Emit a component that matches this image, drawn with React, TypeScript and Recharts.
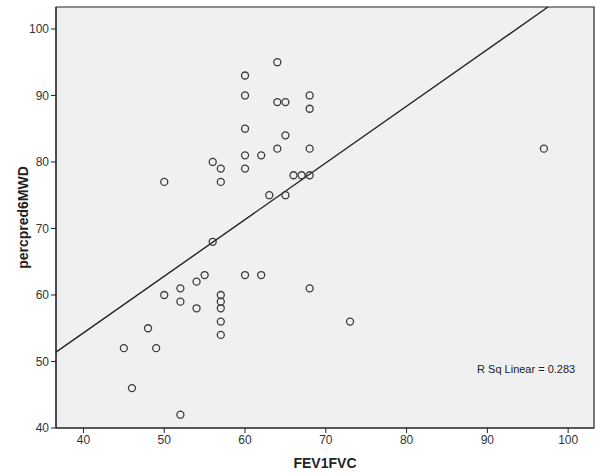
import React from "react";
import {
  ScatterChart,
  Scatter,
  XAxis,
  YAxis,
  CartesianGrid,
  ReferenceArea,
  ReferenceLine,
  ReferenceDot,
} from "recharts";

// FEV1FVC values
const fev1fvc = [
  64, 60, 60, 64, 65, 68, 68, 60, 65, 64, 68, 56, 60, 62, 57, 60, 50, 57, 66, 67,
  68, 63, 65, 56, 60, 62, 68, 57, 57, 57, 57, 57, 73, 55, 54, 52, 50, 52, 54, 48,
  45, 49, 46, 52, 97,
];
// percpred6MWD values
const percpred6MWD = [
  95, 93, 90, 89, 89, 90, 88, 85, 84, 82, 82, 80, 81, 81, 79, 79, 77, 77, 78, 78,
  78, 75, 75, 68, 63, 63, 61, 60, 59, 58, 56, 54, 56, 63, 62, 61, 60, 59, 58, 55,
  52, 52, 46, 42, 82,
];

const xTicks = [40, 50, 60, 70, 80, 90, 100];
const yTicks = [40, 50, 60, 70, 80, 90, 100];
const xDomain = [36.6, 103.2];
const yDomain = [40, 103.3];

// fit line endpoints
const fitX = [36.6, 97.5];
const fitY = [51.4, 103.3];
const rSqText = "R Sq Linear = 0.283";
const rSqPos = [94.8, 48.9];

const points = fev1fvc.map((x, i) => ({ x, y: percpred6MWD[i] }));

const FONT = "'Liberation Sans', Arial, sans-serif";

const OpenCircle = (props: any) => {
  const { cx, cy } = props;
  if (cx == null || cy == null) return null;
  return <circle cx={cx} cy={cy} r={3.5} fill="none" stroke="#3a3a3a" strokeWidth={1.3} />;
};

export default function App() {
  return (
    <div style={{ position: "absolute", left: 0, top: 0, background: "#fff" }}>
      <ScatterChart
        width={596}
        height={474}
        margin={{ top: 7, right: 2, left: 0, bottom: 0 }}
      >
        <CartesianGrid fill="#f0f0f0" horizontal={false} vertical={false} stroke="none" />
        <XAxis
          type="number"
          dataKey="x"
          domain={xDomain}
          ticks={xTicks}
          allowDataOverflow
          height={46}
          tickSize={5}
          stroke="#222"
          tick={{ fill: "#333", fontSize: 12, fontFamily: FONT }}
          label={{
            value: "FEV1FVC",
            position: "insideBottom",
            offset: 6,
            style: { fontFamily: FONT, fontWeight: "bold", fontSize: 14, fill: "#222" },
          }}
        />
        <YAxis
          type="number"
          dataKey="y"
          domain={yDomain}
          ticks={yTicks}
          allowDataOverflow
          width={56}
          tickSize={5}
          stroke="#222"
          tick={{ fill: "#333", fontSize: 12, fontFamily: FONT }}
          label={{
            value: "percpred6MWD",
            angle: -90,
            position: "insideLeft",
            offset: 23,
            style: {
              fontFamily: FONT,
              fontWeight: "bold",
              fontSize: 14,
              fill: "#222",
              textAnchor: "middle",
            },
          }}
        />
        <ReferenceArea
          x1={xDomain[0]}
          x2={xDomain[1]}
          y1={yDomain[0]}
          y2={yDomain[1]}
          fill="none"
          fillOpacity={0}
          stroke="#222"
          strokeWidth={1.2}
          ifOverflow="visible"
        />
        <ReferenceLine
          segment={[
            { x: fitX[0], y: fitY[0] },
            { x: fitX[1], y: fitY[1] },
          ]}
          stroke="#222"
          strokeWidth={1.4}
          ifOverflow="visible"
        />
        <Scatter data={points} shape={OpenCircle} isAnimationActive={false} />
        <ReferenceDot
          x={rSqPos[0]}
          y={rSqPos[1]}
          r={0}
          fill="none"
          stroke="none"
          label={{
            value: rSqText,
            position: "center",
            style: { fontFamily: FONT, fontSize: 11, fill: "#222" },
          }}
        />
      </ScatterChart>
    </div>
  );
}
